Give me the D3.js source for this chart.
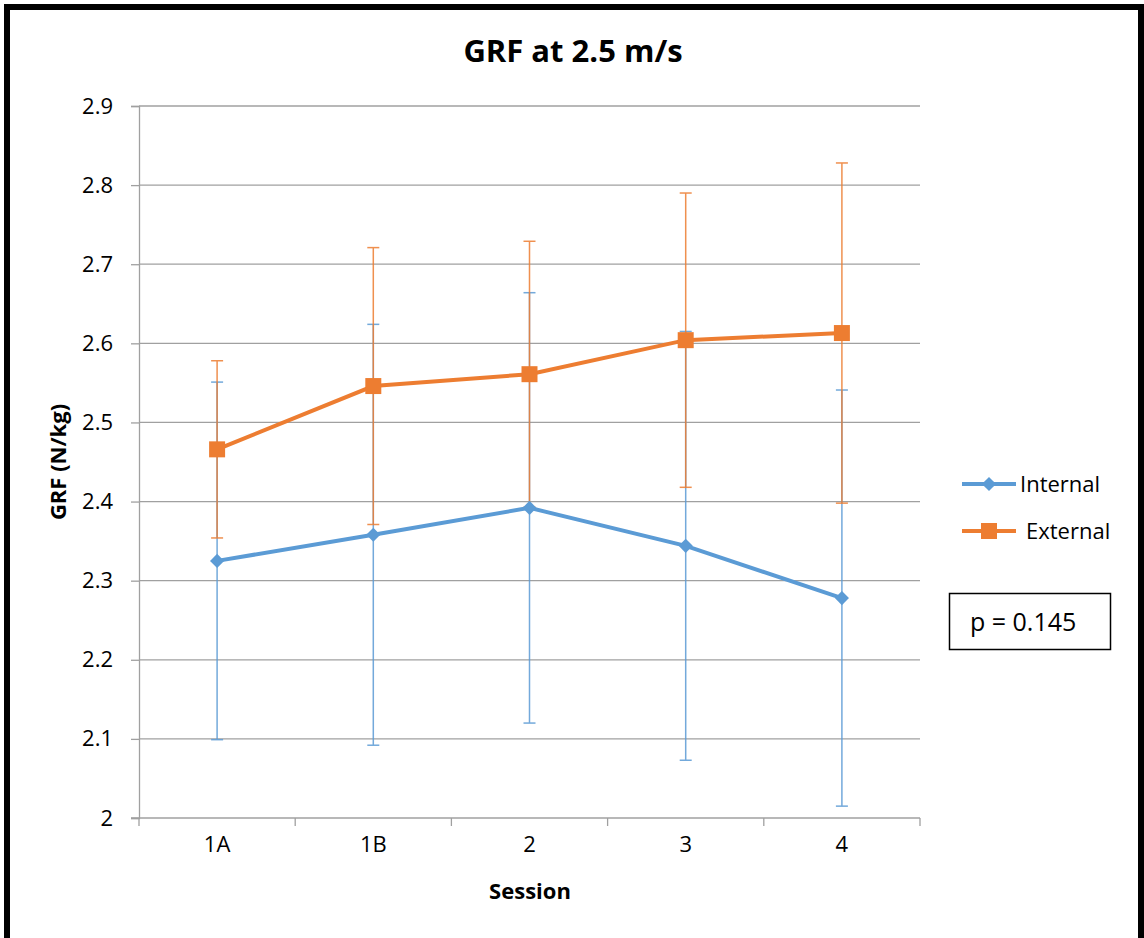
<!DOCTYPE html>
<html>
<head>
<meta charset="utf-8">
<script src="https://cdn.jsdelivr.net/npm/d3@7"></script>
<style>
  body { margin: 0; background: #fff; }
  svg { display: block; font-family: 'Open Sans', sans-serif; }
</style>
</head>
<body>
<div id="chart"></div>
<script>
const sessions = ['1A', '1B', '2', '3', '4']
const internalMean = [2.325, 2.358, 2.392, 2.344, 2.278]
const internalErr = [0.226, 0.266, 0.272, 0.271, 0.263]
const externalMean = [2.466, 2.546, 2.561, 2.604, 2.613]
const externalErr = [0.112, 0.175, 0.168, 0.186, 0.215]
const yTicks = [2, 2.1, 2.2, 2.3, 2.4, 2.5, 2.6, 2.7, 2.8, 2.9]

const width = 1144, height = 938
const plot = { left: 139, right: 920, top: 106, bottom: 818 }
const font = "'Open Sans', sans-serif"

const svg = d3.select('#chart').append('svg')
  .attr('width', width)
  .attr('height', height)

// outer frame
svg.append('rect')
  .attr('x', 7).attr('y', 7)
  .attr('width', 1134).attr('height', 1000)
  .attr('fill', '#fff')
  .attr('stroke', '#000')
  .attr('stroke-width', 6)

const x = d3.scaleBand().domain(sessions).range([plot.left, plot.right])
const y = d3.scaleLinear().domain([2, 2.9]).range([plot.bottom, plot.top])

// gridlines
svg.append('g')
  .selectAll('line')
  .data(yTicks.slice(1))
  .join('line')
  .attr('x1', plot.left).attr('x2', plot.right)
  .attr('y1', d => y(d)).attr('y2', d => y(d))
  .attr('stroke', '#a0a0a0')
  .attr('stroke-width', 1.3)

// y axis
const yAxis = svg.append('g')
  .attr('transform', `translate(${plot.left},0)`)
  .call(d3.axisLeft(y).tickValues(yTicks).tickFormat(d3.format('')).tickSize(8).tickPadding(18))
yAxis.select('.domain').attr('stroke', '#a0a0a0').attr('stroke-width', 1.3)
yAxis.selectAll('.tick line').attr('stroke', '#a0a0a0').attr('stroke-width', 1.3)
yAxis.selectAll('.tick text').attr('font-size', 22).attr('fill', '#000').attr('font-family', font)

// x axis
const xAxis = svg.append('g')
  .attr('transform', `translate(0,${plot.bottom})`)
  .call(d3.axisBottom(x).tickSize(0).tickPadding(18))
xAxis.select('.domain').remove()
xAxis.selectAll('.tick text').attr('font-size', 22).attr('fill', '#000').attr('font-family', font)
xAxis.append('line')
  .attr('x1', plot.left - 8).attr('x2', plot.right)
  .attr('stroke', '#a0a0a0').attr('stroke-width', 1.3)
xAxis.selectAll('.bound')
  .data(sessions.map(s => x(s)).concat([plot.right]))
  .join('line')
  .attr('class', 'bound')
  .attr('x1', d => d).attr('x2', d => d)
  .attr('y1', 0).attr('y2', 8)
  .attr('stroke', '#a0a0a0').attr('stroke-width', 1.3)

const cx = s => x(s) + x.bandwidth() / 2

const series = [
  { name: 'Internal', mean: internalMean, err: internalErr, color: '#5B9BD5', marker: 'diamond' },
  { name: 'External', mean: externalMean, err: externalErr, color: '#ED7D31', marker: 'square' }
]

// error bars
series.forEach(s => {
  const g = svg.append('g').attr('opacity', 0.85)
  sessions.forEach((k, i) => {
    const hi = y(s.mean[i] + s.err[i]), lo = y(s.mean[i] - s.err[i])
    g.append('line').attr('x1', cx(k)).attr('x2', cx(k)).attr('y1', hi).attr('y2', lo)
      .attr('stroke', s.color).attr('stroke-width', 1.5)
    ;[hi, lo].forEach(v => {
      g.append('line').attr('x1', cx(k) - 6).attr('x2', cx(k) + 6).attr('y1', v).attr('y2', v)
        .attr('stroke', s.color).attr('stroke-width', 1.5)
    })
  })
})

const line = d3.line().x((d, i) => cx(sessions[i])).y(d => y(d))
const sqPath = d3.symbol().type(d3.symbolSquare).size(256)
const diaPath = d3.symbol().type(d3.symbolSquare).size(100)

series.forEach(s => {
  svg.append('path')
    .attr('d', line(s.mean))
    .attr('fill', 'none')
    .attr('stroke', s.color)
    .attr('stroke-width', 4)
  svg.append('g')
    .selectAll('path')
    .data(s.mean)
    .join('path')
    .attr('d', s.marker === 'square' ? sqPath() : diaPath())
    .attr('transform', (d, i) => `translate(${cx(sessions[i])},${y(d)})` + (s.marker === 'square' ? '' : ' rotate(45)'))
    .attr('fill', s.color)
})

// title
svg.append('text')
  .attr('x', 573).attr('y', 62)
  .attr('text-anchor', 'middle')
  .attr('font-size', 31).attr('font-weight', 'bold')
  .text('GRF at 2.5 m/s')

// axis titles
svg.append('text')
  .attr('transform', 'translate(66,462) rotate(-90)')
  .attr('text-anchor', 'middle')
  .attr('font-size', 22).attr('font-weight', 'bold')
  .text('GRF (N/kg)')

svg.append('text')
  .attr('x', 530).attr('y', 899)
  .attr('text-anchor', 'middle')
  .attr('font-size', 22).attr('font-weight', 'bold')
  .text('Session')

// legend
const legendY = [484, 531]
const legendX = [1020, 1026]
series.forEach((s, i) => {
  const g = svg.append('g').attr('transform', `translate(0,${legendY[i]})`)
  g.append('line').attr('x1', 962).attr('x2', 1016).attr('stroke', s.color).attr('stroke-width', 4)
  g.append('path')
    .attr('d', s.marker === 'square' ? sqPath() : diaPath())
    .attr('transform', `translate(989,0)` + (s.marker === 'square' ? '' : ' rotate(45)'))
    .attr('fill', s.color)
  g.append('text').attr('x', legendX[i]).attr('y', 8).attr('font-size', 22).text(s.name)
})

// p-value box
svg.append('rect')
  .attr('x', 949.5).attr('y', 593.5).attr('width', 161).attr('height', 56)
  .attr('fill', '#fff').attr('stroke', '#000').attr('stroke-width', 1.5)
svg.append('text')
  .attr('x', 970).attr('y', 631)
  .attr('font-size', 25)
  .text('p = 0.145')
</script>
</body>
</html>
